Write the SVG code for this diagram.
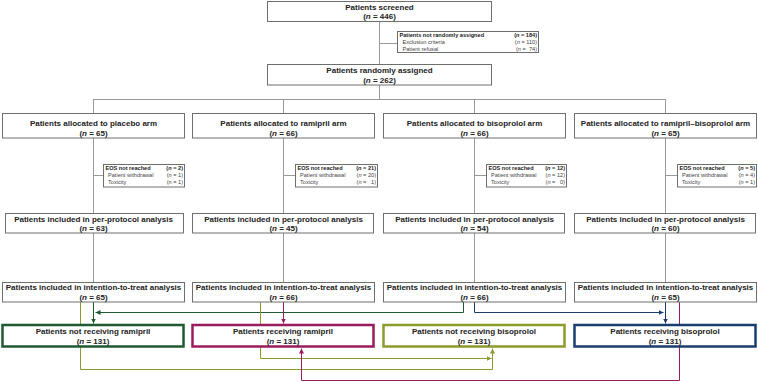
<svg xmlns="http://www.w3.org/2000/svg" width="758" height="382" viewBox="0 0 758 382">
<style>
text{font-family:"Liberation Sans",Arial,sans-serif;fill:#222}
.t{font-size:8px;font-weight:bold;text-anchor:middle}
.s{font-size:5.6px}
.b{font-weight:bold}
.r{text-anchor:end;white-space:pre}
.g{fill:#444}
.box{fill:#fff;stroke:#6e6e6e;stroke-width:1}
.gl{fill:none;stroke:#9a9a9a;stroke-width:1}
.c{fill:none;stroke-width:1}
.green{stroke:#1f5a32}
.mag{stroke:#9b1c5e}
.olv{stroke:#8d9a2c}
.navy{stroke:#1b3d6d}
.cb{fill:#fff;stroke-width:2.5}
</style>
<defs>
<marker id="ag" viewBox="0 0 5 5" refX="5" refY="2.5" markerWidth="5" markerHeight="5" markerUnits="userSpaceOnUse" orient="auto"><path d="M0,0L5,2.5L0,5z" fill="#1f5a32"/></marker>
<marker id="am" viewBox="0 0 5 5" refX="5" refY="2.5" markerWidth="5" markerHeight="5" markerUnits="userSpaceOnUse" orient="auto"><path d="M0,0L5,2.5L0,5z" fill="#9b1c5e"/></marker>
<marker id="ao" viewBox="0 0 5 5" refX="5" refY="2.5" markerWidth="5" markerHeight="5" markerUnits="userSpaceOnUse" orient="auto"><path d="M0,0L5,2.5L0,5z" fill="#8d9a2c"/></marker>
<marker id="an" viewBox="0 0 5 5" refX="5" refY="2.5" markerWidth="5" markerHeight="5" markerUnits="userSpaceOnUse" orient="auto"><path d="M0,0L5,2.5L0,5z" fill="#1b3d6d"/></marker>
</defs>
<g id="connectors">
<path class="gl" d="M379.5,21V64M379.5,43.5H397M379.5,85V99.5M93.5,99.5H665.5M93.5,99V113M283.5,99V113M474.5,99V113M665.5,99V113"/>
<path class="gl" d="M93.5,138V213M283.5,138V213M474.5,138V213M665.5,138V213M93.5,175.5H103M283.5,175.5H295M474.5,175.5H486M665.5,175.5H677"/>
<path class="gl" d="M93.5,233V282M283.5,233V282M474.5,233V282M665.5,233V282"/>
<path class="c green" d="M93.5,302V323.5" marker-end="url(#ag)"/>
<path class="c green" d="M463.5,302V312.5H95.5" marker-end="url(#ag)"/>
<path class="c olv" d="M80.5,302V369.5H492.5V348.5" marker-end="url(#ao)"/>
<path class="c olv" d="M260.5,302V358.5H491.5" marker-end="url(#ao)"/>
<path class="c mag" d="M283.5,302V323.5" marker-end="url(#am)"/>
<path class="c mag" d="M679.5,302V380.5H301.5V348.5" marker-end="url(#am)"/>
<path class="c navy" d="M665.5,302V323.5" marker-end="url(#an)"/>
<path class="c navy" d="M474.5,302V312.5H663.5" marker-end="url(#an)"/>
</g>
<g id="screened"><rect class="box" x="267.5" y="1.5" width="224" height="20"/><text class="t" x="379.5" y="9.5">Patients screened</text><text class="t" x="379.5" y="19">(<tspan font-style="italic">n</tspan> = 446)</text></g>
<g id="not-randomized"><rect class="box" x="397.5" y="31.5" width="141" height="21"/>
<text class="s b" x="399.5" y="36.8">Patients not randomly assigned</text><text class="s b r" x="537" y="36.8">(<tspan font-style="italic">n</tspan> = 184)</text>
<text class="s g" x="402.5" y="44">Exclusion criteria</text><text class="s g r" x="537" y="44">(<tspan font-style="italic">n</tspan> = 110)</text>
<text class="s g" x="402.5" y="50.8">Patient refusal</text><text class="s g r" x="537" y="50.8">(<tspan font-style="italic">n</tspan> =  74)</text></g>
<g id="randomized"><rect class="box" x="267.5" y="64.5" width="224" height="20.5"/><text class="t" x="379.5" y="72.8">Patients randomly assigned</text><text class="t" x="379.5" y="82.8">(<tspan font-style="italic">n</tspan> = 262)</text></g>

<g id="arm-placebo"><rect class="box" x="2.5" y="113.5" width="182" height="24.5"/><text class="t" x="93.5" y="126.3">Patients allocated to placebo arm</text><text class="t" x="93.5" y="136.2">(<tspan font-style="italic">n</tspan> = 65)</text></g>
<g id="arm-ramipril"><rect class="box" x="192.5" y="113.5" width="182" height="24.5"/><text class="t" x="283.5" y="126.3">Patients allocated to ramipril arm</text><text class="t" x="283.5" y="136.2">(<tspan font-style="italic">n</tspan> = 66)</text></g>
<g id="arm-bisoprolol"><rect class="box" x="383.5" y="113.5" width="182" height="24.5"/><text class="t" x="474.5" y="126.3">Patients allocated to bisoprolol arm</text><text class="t" x="474.5" y="136.2">(<tspan font-style="italic">n</tspan> = 66)</text></g>
<g id="arm-combo"><rect class="box" x="574.5" y="113.5" width="182" height="24.5"/><text class="t" x="665.5" y="126.3">Patients allocated to ramipril–bisoprolol arm</text><text class="t" x="665.5" y="136.2">(<tspan font-style="italic">n</tspan> = 65)</text></g>

<g id="eos-placebo"><rect class="box" x="103.5" y="164.5" width="81" height="22.5"/>
<text class="s b" x="105.5" y="170.3">EOS not reached</text><text class="s b r" x="183" y="170.3">(<tspan font-style="italic">n</tspan> = 2)</text>
<text class="s g" x="108" y="177">Patient withdrawal</text><text class="s g r" x="183" y="177">(<tspan font-style="italic">n</tspan> = 1)</text>
<text class="s g" x="108" y="183.5">Toxicity</text><text class="s g r" x="183" y="183.5">(<tspan font-style="italic">n</tspan> = 1)</text></g>
<g id="eos-ramipril"><rect class="box" x="295.5" y="164.5" width="82" height="22.5"/>
<text class="s b" x="297.5" y="170.3">EOS not reached</text><text class="s b r" x="376" y="170.3">(<tspan font-style="italic">n</tspan> = 21)</text>
<text class="s g" x="300" y="177">Patient withdrawal</text><text class="s g r" x="376" y="177">(<tspan font-style="italic">n</tspan> = 20)</text>
<text class="s g" x="300" y="183.5">Toxicity</text><text class="s g r" x="376" y="183.5">(<tspan font-style="italic">n</tspan> =   1)</text></g>
<g id="eos-bisoprolol"><rect class="box" x="486.5" y="164.5" width="80" height="22.5"/>
<text class="s b" x="488.5" y="170.3">EOS not reached</text><text class="s b r" x="565" y="170.3">(<tspan font-style="italic">n</tspan> = 12)</text>
<text class="s g" x="491" y="177">Patient withdrawal</text><text class="s g r" x="565" y="177">(<tspan font-style="italic">n</tspan> = 12)</text>
<text class="s g" x="491" y="183.5">Toxicity</text><text class="s g r" x="565" y="183.5">(<tspan font-style="italic">n</tspan> =   0)</text></g>
<g id="eos-combo"><rect class="box" x="677.5" y="164.5" width="79" height="22.5"/>
<text class="s b" x="679.5" y="170.3">EOS not reached</text><text class="s b r" x="755" y="170.3">(<tspan font-style="italic">n</tspan> = 5)</text>
<text class="s g" x="682" y="177">Patient withdrawal</text><text class="s g r" x="755" y="177">(<tspan font-style="italic">n</tspan> = 4)</text>
<text class="s g" x="682" y="183.5">Toxicity</text><text class="s g r" x="755" y="183.5">(<tspan font-style="italic">n</tspan> = 1)</text></g>

<g id="pp-placebo"><rect class="box" x="5.5" y="213.5" width="178" height="19.5"/><text class="t" x="93.5" y="221.5">Patients included in per-protocol analysis</text><text class="t" x="93.5" y="231.2">(<tspan font-style="italic">n</tspan> = 63)</text></g>
<g id="pp-ramipril"><rect class="box" x="192.5" y="213.5" width="181" height="19.5"/><text class="t" x="283.5" y="221.5">Patients included in per-protocol analysis</text><text class="t" x="283.5" y="231.2">(<tspan font-style="italic">n</tspan> = 45)</text></g>
<g id="pp-bisoprolol"><rect class="box" x="383.5" y="213.5" width="181" height="19.5"/><text class="t" x="474.5" y="221.5">Patients included in per-protocol analysis</text><text class="t" x="474.5" y="231.2">(<tspan font-style="italic">n</tspan> = 54)</text></g>
<g id="pp-combo"><rect class="box" x="574.5" y="213.5" width="181" height="19.5"/><text class="t" x="665.5" y="221.5">Patients included in per-protocol analysis</text><text class="t" x="665.5" y="231.2">(<tspan font-style="italic">n</tspan> = 60)</text></g>

<g id="itt-placebo"><rect class="box" x="2.5" y="282.5" width="182" height="19.5"/><text class="t" x="93.5" y="290">Patients included in intention-to-treat analysis</text><text class="t" x="93.5" y="299.5">(<tspan font-style="italic">n</tspan> = 65)</text></g>
<g id="itt-ramipril"><rect class="box" x="192.5" y="282.5" width="182" height="19.5"/><text class="t" x="283.5" y="290">Patients included in intention-to-treat analysis</text><text class="t" x="283.5" y="299.5">(<tspan font-style="italic">n</tspan> = 66)</text></g>
<g id="itt-bisoprolol"><rect class="box" x="383.5" y="282.5" width="182" height="19.5"/><text class="t" x="474.5" y="290">Patients included in intention-to-treat analysis</text><text class="t" x="474.5" y="299.5">(<tspan font-style="italic">n</tspan> = 66)</text></g>
<g id="itt-combo"><rect class="box" x="574.5" y="282.5" width="182" height="19.5"/><text class="t" x="665.5" y="290">Patients included in intention-to-treat analysis</text><text class="t" x="665.5" y="299.5">(<tspan font-style="italic">n</tspan> = 65)</text></g>

<g id="not-ramipril"><rect class="cb green" x="2.5" y="325" width="181" height="21.5"/><text class="t" x="93" y="334.3">Patients not receiving ramipril</text><text class="t" x="93" y="344">(<tspan font-style="italic">n</tspan> = 131)</text></g>
<g id="ramipril"><rect class="cb mag" x="192.5" y="325" width="181" height="21.5"/><text class="t" x="283" y="334.3">Patients receiving ramipril</text><text class="t" x="283" y="344">(<tspan font-style="italic">n</tspan> = 131)</text></g>
<g id="not-bisoprolol"><rect class="cb olv" x="383.5" y="325" width="181" height="21.5"/><text class="t" x="474" y="334.3">Patients not receiving bisoprolol</text><text class="t" x="474" y="344">(<tspan font-style="italic">n</tspan> = 131)</text></g>
<g id="bisoprolol"><rect class="cb navy" x="574.5" y="325" width="181" height="21.5"/><text class="t" x="665" y="334.3">Patients receiving bisoprolol</text><text class="t" x="665" y="344">(<tspan font-style="italic">n</tspan> = 131)</text></g>
</svg>
